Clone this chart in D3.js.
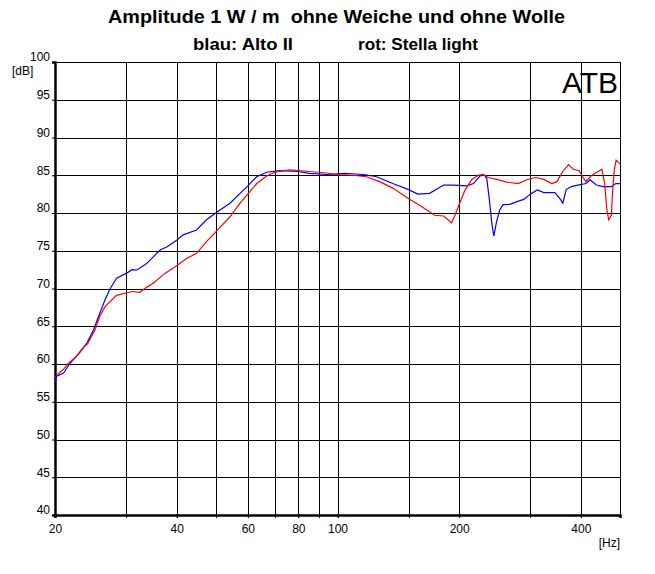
<!DOCTYPE html>
<html>
<head>
<meta charset="utf-8">
<script src="https://cdn.jsdelivr.net/npm/d3@7"></script>
<style>
  body { margin: 0; background: #fff; }
  text { font-family: "Liberation Sans", Arial, sans-serif; fill: #000; }
</style>
</head>
<body>
<div id="chart"></div>
<script>
// frequency response data
const blueFreq = [20, 20.2, 21, 21.8, 23.1, 24, 24.9, 25.8, 26.6, 27.4, 28.4, 30, 31, 31.9, 33.7, 36.4, 37.8, 40,
  41.5, 44.8, 47.4, 50, 51.2, 54.2, 57.4, 60, 63.1, 66.8, 72, 80, 85, 94, 104, 116, 125, 137, 150, 158, 169,
  183, 193, 209, 217, 225, 231, 234, 237.6, 241, 243.6, 247.5, 252, 257, 267, 278, 289, 300, 312, 324, 345,
  355, 361, 368, 379, 393, 412, 422, 437, 454, 476, 488, 500];
const blueDb = [57.65, 58.4, 58.8, 60.1, 61.6, 62.8, 64.5, 66.7, 68.5, 70.0, 71.35, 72.0, 72.5, 72.45, 73.3, 75.1, 75.5, 76.4,
  77.1, 77.75, 79.1, 80.0, 80.4, 81.3, 82.6, 83.6, 84.8, 85.4, 85.6, 85.5, 85.25, 85.1, 85.25, 85.1, 84.8, 83.9, 83.1, 82.5, 82.6,
  83.7, 83.7, 83.6, 83.9, 84.9, 85.0, 84.6, 81.7, 78.6, 76.95, 78.85, 80.4, 81.1, 81.15, 81.5, 81.8, 82.5, 83.05, 82.7, 82.7,
  81.9, 81.3, 83.1, 83.5, 83.7, 83.9, 84.4, 83.7, 83.5, 83.5, 83.9, 83.9];

const redFreq = [20, 21, 21.6, 22.6, 23.4, 24.1, 25.1, 25.8, 26.6, 28.4, 30, 31, 32.4, 33.7, 35, 37.4, 40, 42.4,
  44.8, 47.4, 50, 51.2, 54.2, 57.4, 60, 63.1, 66.8, 70, 76, 80, 85, 94, 100, 109, 118, 127, 137, 150, 160, 174,
  183, 191.6, 197, 200.5, 206.7, 214.8, 223, 229, 236, 248, 262, 280, 294, 309, 324, 339, 349, 361, 373, 383,
  396, 403, 412, 424, 437, 451, 458, 464, 469, 476, 479, 484, 489, 500];
const redDb = [58.3, 59.3, 60.1, 61.0, 62.1, 62.7, 64.5, 66.3, 67.6, 69.1, 69.4, 69.6, 69.5, 70.15, 70.7, 72.0, 73.0, 74.0,
  74.65, 76.2, 77.5, 78.1, 79.5, 81.3, 82.5, 83.9, 84.9, 85.4, 85.7, 85.6, 85.5, 85.3, 85.1, 85.0, 84.8, 84.15, 83.3, 81.9, 81.0, 79.7,
  79.6, 78.7, 80.2, 81.3, 83.0, 84.4, 85.0, 85.1, 84.7, 84.45, 84.1, 83.9, 84.4, 84.7, 84.45, 83.9, 84.15, 85.5, 86.4, 85.8,
  85.6, 84.9, 84.15, 84.9, 85.35, 85.8, 83.9, 80.4, 79.1, 79.7, 82.6, 85.7, 87.0, 86.5];

const gridFreqs = [30, 40, 50, 60, 70, 80, 90, 100, 150, 200, 300, 400];
const freqLabels = [20, 40, 60, 80, 100, 200, 400];
const dbTicks = [40, 45, 50, 55, 60, 65, 70, 75, 80, 85, 90, 95, 100];

const width = 655, height = 574;
const margin = {top: 62, right: 35, bottom: 59, left: 55};

const svg = d3.select("#chart")
    .append("svg")
    .attr("width", width)
    .attr("height", height);

const x = d3.scaleLog()
    .domain([20, 500])
    .range([margin.left, width - margin.right]);

const y = d3.scaleLinear()
    .domain([40, 100])
    .range([height - margin.bottom, margin.top]);

// grid
svg.append("g")
    .selectAll("line")
    .data(dbTicks.slice(1, -1))
    .join("line")
    .attr("x1", x(20)).attr("x2", x(500))
    .attr("y1", d => Math.round(y(d)) + 0.5).attr("y2", d => Math.round(y(d)) + 0.5)
    .attr("stroke", "#000").attr("stroke-width", 1);

svg.append("g")
    .selectAll("line")
    .data(gridFreqs)
    .join("line")
    .attr("x1", d => Math.round(x(d)) + 0.5).attr("x2", d => Math.round(x(d)) + 0.5)
    .attr("y1", y(100)).attr("y2", y(40) + 3)
    .attr("stroke", "#000").attr("stroke-width", 1);

// frame: thin top/right, heavy left/bottom
svg.append("line")
    .attr("x1", x(20)).attr("x2", x(500) + 0.5)
    .attr("y1", y(100) + 0.5).attr("y2", y(100) + 0.5)
    .attr("stroke", "#000");
svg.append("line")
    .attr("x1", x(500) + 0.5).attr("x2", x(500) + 0.5)
    .attr("y1", y(100)).attr("y2", y(40) + 3)
    .attr("stroke", "#000");

// left axis
svg.append("g")
    .attr("transform", `translate(${x(20)},0)`)
    .call(d3.axisLeft(y).tickValues(dbTicks).tickSize(3).tickPadding(2))
    .call(g => g.select(".domain").attr("stroke-width", 2.5))
    .call(g => g.selectAll(".tick text")
        .attr("font-size", 12)
        .attr("font-family", "\"Liberation Sans\", Arial, sans-serif")
        .attr("dy", "-0.1em"));

// bottom axis
svg.append("g")
    .attr("transform", `translate(0,${y(40)})`)
    .call(d3.axisBottom(x).tickValues(freqLabels).tickFormat(d3.format("d")).tickSize(3).tickPadding(6))
    .call(g => g.select(".domain").attr("stroke-width", 2.5))
    .call(g => g.selectAll(".tick text")
        .attr("font-size", 12)
        .attr("font-family", "\"Liberation Sans\", Arial, sans-serif"));

// curves
const line = d3.line()
    .x(d => x(d[0]))
    .y(d => y(d[1]));

svg.append("path")
    .datum(blueFreq.map((f, i) => [f, blueDb[i]]))
    .attr("fill", "none")
    .attr("stroke", "#0000ff")
    .attr("stroke-width", 1.2)
    .attr("d", line);

svg.append("path")
    .datum(redFreq.map((f, i) => [f, redDb[i]]))
    .attr("fill", "none")
    .attr("stroke", "#ff0000")
    .attr("stroke-width", 1.2)
    .attr("d", line);

// texts
svg.append("text")
    .attr("x", 108).attr("y", 23)
    .attr("font-size", 18).attr("font-weight", "bold")
    .attr("textLength", 457).attr("lengthAdjust", "spacingAndGlyphs")
    .attr("xml:space", "preserve")
    .text("Amplitude 1 W / m  ohne Weiche und ohne Wolle");

svg.append("text")
    .attr("x", 193).attr("y", 50)
    .attr("font-size", 17).attr("font-weight", "bold")
    .attr("textLength", 100).attr("lengthAdjust", "spacingAndGlyphs")
    .text("blau: Alto II");

svg.append("text")
    .attr("x", 358).attr("y", 50)
    .attr("font-size", 17).attr("font-weight", "bold")
    .attr("textLength", 120).attr("lengthAdjust", "spacingAndGlyphs")
    .text("rot: Stella light");

svg.append("text")
    .attr("x", 618).attr("y", 93)
    .attr("text-anchor", "end")
    .attr("font-size", 30)
    .text("ATB");

svg.append("text")
    .attr("x", 12).attr("y", 75)
    .attr("font-size", 12)
    .text("[dB]");

svg.append("text")
    .attr("x", 620).attr("y", 547)
    .attr("text-anchor", "end")
    .attr("font-size", 12)
    .text("[Hz]");
</script>
</body>
</html>
